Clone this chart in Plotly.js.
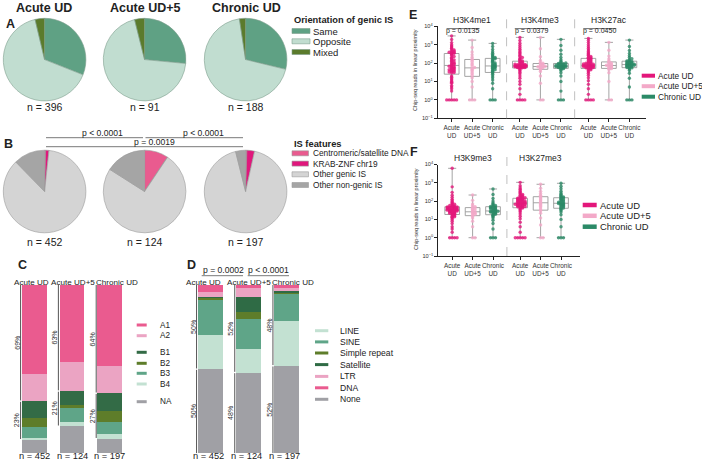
<!DOCTYPE html>
<html>
<head>
<meta charset="utf-8">
<script src="https://cdn.plot.ly/plotly-3.0.1.min.js"></script>
<style>
  html, body { margin: 0; padding: 0; background: #fff; }
  #chart { width: 702px; height: 469px; }
</style>
</head>
<body>
<div id="chart"></div>
<script>
// ---------------- data ----------------
const groups = ['Acute UD', 'Acute UD+5', 'Chronic UD'];

// A: orientation of genic integration sites (% of sites)
const orientLabels = ['Same', 'Opposite', 'Mixed'];
const orientAcute = [31.0, 65.3, 3.7];
const orientAcute5 = [26.5, 69.6, 3.9];
const orientChronic = [28.8, 68.8, 2.4];
const orientN = [396, 91, 188];

// B: integration site features (% of sites)
const featLabels = ['Centromeric/satellite DNA', 'KRAB-ZNF chr19', 'Other genic IS', 'Other non-genic IS'];
const featAcute = [0.4, 1.3, 86.0, 12.3];
const featAcute5 = [9.4, 0.0, 74.6, 16.0];
const featChronic = [0.5, 3.0, 92.6, 3.9];
const featN = [452, 124, 197];
const featPvals = ['p < 0.0001', 'p < 0.0001', 'p = 0.0019'];

// C: chromatin sub-compartments (% per group)
const compLabels = ['A1', 'A2', 'B1', 'B2', 'B3', 'B4', 'NA'];
const compA1 = [53.0, 45.5, 48.1];
const compA2 = [16.0, 17.5, 16.2];
const compB1 = [10.3, 8.3, 10.5];
const compB2 = [5.0, 1.6, 6.7];
const compB3 = [6.5, 8.5, 6.9];
const compB4 = [1.2, 2.6, 3.0];
const compNA = [8.0, 16.0, 8.6];
const compN = [452, 124, 197];

// D: repeat classes at the site (% per group)
const repLabels = ['LINE', 'SINE', 'Simple repeat', 'Satellite', 'LTR', 'DNA', 'None'];
const repDNA = [4.0, 2.0, 1.6];
const repLTR = [3.0, 5.0, 2.0];
const repSatellite = [1.0, 9.3, 1.0];
const repSimple = [1.2, 4.0, 0.6];
const repSINE = [20.4, 18.0, 16.2];
const repLINE = [20.4, 13.7, 26.6];
const repNone = [50.0, 48.0, 52.0];
const repN = [452, 124, 197];
const repPvals = ['p = 0.0002', 'p < 0.0001'];

// E/F: ChIP-seq reads near each site
const marksE = ['H3K4me1', 'H3K4me3', 'H3K27ac'];
const pvalsE = ['p = 0.0135', 'p = 0.0379', 'p = 0.0450'];
const marksF = ['H3K9me3', 'H3K27me3'];

const k4me1Acute = [1,1,1,1,1,3,4,5,6,8,9,10,12,14,17,20,30,31,33,35,37,40,42,44,47,50,53,56,60,63,67,71,78,84,90,97,105,115,125,138,150,165,185,205,230,260,290,320,345,355,370,390,410,440,470,520,580,650,740,850,1000,1300,1900,3000];
const k4me1Acute5 = [1,1,1,5,10,16,22,27,33,40,45,52,58,70,85,100,125,150,165,210,280,400,700,1780];
const k4me1Chronic = [1,1,1,4,8,12,16,20,25,29,33,36,40,44,48,52,56,60,64,68,72,78,85,93,102,112,125,140,155,172,188,200,220,250,290,340,420,550,800,1180];

const k4me3Acute = [1,1,1,1,2,4,7,10,15,20,26,32,38,44,49,53,56,57,58,59,60,61,62,63,64,65,66,66,67,68,69,70,71,72,73,74,75,76,78,80,82,85,88,92,97,103,112,122,132,145,160,180,200,230,270,320,380,460,560,700,900,1200,1700,2500];
const k4me3Acute5 = [1,1,8,20,35,44,48,52,56,59,61,63,67,70,74,79,85,92,98,110,140,220,600,2500];
const k4me3Chronic = [1,1,1,3,10,20,30,40,46,50,53,55,57,59,61,62,63,64,66,67,69,70,72,74,76,79,82,86,90,94,97,102,110,125,150,200,300,500,900,1950];

const k27acAcute = [1,1,1,1,2,4,7,11,16,22,28,34,39,43,47,50,52,54,56,58,60,62,64,65,66,67,68,70,71,72,74,76,78,80,83,86,89,92,96,100,106,112,120,130,140,152,165,176,185,195,210,230,255,285,320,370,430,510,620,780,1000,1300,1700,2200];
const k27acAcute5 = [1,1,10,30,45,50,53,58,62,66,69,72,76,80,86,93,101,112,120,135,170,240,500,1340];
const k27acChronic = [1,1,1,5,15,28,40,48,52,55,58,61,64,67,70,73,75,77,79,81,85,88,91,95,99,104,109,114,119,124,130,140,155,175,200,250,330,480,800,1780];

const k9me3Acute = [1,1,1,1,2,3,4,6,8,10,12,13,14,15,16,18,19,20,21,22,23,24,25,26,27,28,29,30,30,31,32,32,34,35,36,37,38,39,40,41,42,43,44,45,46,47,48,48,50,52,55,58,62,67,73,80,90,105,125,160,210,300,600,6200];
const k9me3Acute5 = [1,1,4,8,12,15,17,19,21,22,24,25,27,30,33,36,39,42,46,50,58,70,110,215];
const k9me3Chronic = [1,1,1,3,6,9,12,14,16,17,19,20,22,23,24,25,26,27,28,28,30,32,34,36,38,40,42,44,46,48,51,54,58,63,70,80,100,140,230,460];

const k27me3Acute = [1,1,1,1,1,2,4,7,11,15,20,25,30,35,39,42,45,47,49,51,53,55,57,59,61,63,65,67,69,71,73,75,78,81,84,87,90,94,98,102,106,110,115,120,125,130,135,140,145,152,160,170,182,195,210,230,255,285,320,370,440,540,700,1060];
const k27me3Acute5 = [1,1,5,12,22,30,34,42,50,58,66,75,87,100,115,132,150,168,180,210,260,340,500,830];
const k27me3Chronic = [1,1,1,4,10,18,25,31,36,39,42,46,50,54,58,62,65,68,71,74,78,83,88,94,100,108,117,127,137,148,158,170,185,205,235,280,350,470,650,940];

// ---------------- styling ----------------
const W = 702, H = 469;
const FONT = '"Liberation Sans", Arial, sans-serif';
const TXT = '#222';
const fx = x => x / W;           // page pixel -> paper x
const fy = y => 1 - y / H;       // page pixel -> paper y

const orientColors = ['#5fa184', '#c1ddd0', '#5b7b2c'];
const featColors = ['#e95b8f', '#e0177c', '#d4d4d4', '#a5a5a5'];
const compColors = {A1: '#ea5b8f', A2: '#eba4c3', B1: '#336b46', B2: '#5e7d2a', B3: '#5fa588', B4: '#c3e1d2', NA: '#a0a0a5'};
const repColors = {LINE: '#c3e1d2', SINE: '#5fa588', 'Simple repeat': '#5e7d2a', Satellite: '#2f6b45', LTR: '#eba4c3', DNA: '#ea5b8f', None: '#a0a0a5'};
const groupColors = ['#e3177a', '#f3a9c8', '#2b8a67'];

const traces = [];
const shapes = [];
const annotations = [];

function txt(text, x, y, size, opts) {
  return Object.assign({
    text: text, x: fx(x), y: fy(y), xref: 'paper', yref: 'paper',
    showarrow: false, xanchor: 'center', yanchor: 'middle',
    font: {family: FONT, size: size, color: TXT}
  }, opts || {});
}
function hline(x0, x1, y, color, width) {
  shapes.push({type: 'line', xref: 'paper', yref: 'paper', x0: fx(x0), x1: fx(x1), y0: fy(y), y1: fy(y),
    line: {color: color || '#555', width: width || 0.8}});
}
function swatch(x0, x1, yc, h, color, border) {
  shapes.push({type: 'rect', xref: 'paper', yref: 'paper', x0: fx(x0), x1: fx(x1), y0: fy(yc + h / 2), y1: fy(yc - h / 2),
    fillcolor: color, line: {color: border || color, width: border ? 0.6 : 0}});
}

// ---------------- pies (A, B) ----------------
function pie(values, labels, colors, cx, cy, r, lineColor) {
  traces.push({
    type: 'pie', values: values, labels: labels, sort: false, direction: 'clockwise', rotation: 0,
    textinfo: 'none', hoverinfo: 'none', showlegend: false,
    marker: {colors: colors, line: {color: lineColor, width: 0.6}},
    domain: {x: [fx(cx - r), fx(cx + r)], y: [fy(cy + r), fy(cy - r)]}
  });
}
const pieX = [44.6, 144.6, 245.6];
const orientSets = [orientAcute, orientAcute5, orientChronic];
const featSets = [featAcute, featAcute5, featChronic];
orientSets.forEach((v, i) => pie(v, orientLabels, orientColors, pieX[i], 59.6, 41.3, '#7e9d8d'));
featSets.forEach((v, i) => pie(v, featLabels, featColors, pieX[i], 191.5, 41.3, '#9a9a9a'));

const pieTitleX = [44, 145, 246.5];
groups.forEach((g, i) => {
  annotations.push(txt('<b>' + g + '</b>', pieTitleX[i], 8.5, 12.5));
  annotations.push(txt('n = ' + orientN[i], pieX[i], 107.5, 10.5));
  annotations.push(txt('n = ' + featN[i], pieX[i], 241.5, 10.5));
});
annotations.push(txt('<b>A</b>', 10, 24, 12.5));
annotations.push(txt('<b>B</b>', 8.5, 144, 12.5));

// legend A
annotations.push(txt('<b>Orientation of genic IS</b>', 291.5, 20, 9.3, {xanchor: 'left'}));
orientLabels.forEach((l, i) => {
  const y = [31, 41.3, 52][i];
  swatch(292, 310, y, 5, orientColors[i], '#7e9d8d');
  annotations.push(txt(l, 311, y, 9.5, {xanchor: 'left'}));
});
// legend B
annotations.push(txt('<b>IS features</b>', 291.5, 144, 9.3, {xanchor: 'left'}));
featLabels.forEach((l, i) => {
  const y = [153.3, 163.6, 174.3, 185][i];
  swatch(292, 308.5, y, 5, featColors[i], '#9a9a9a');
  annotations.push(txt(l, 310.5, y, 8.3, {xanchor: 'left'}));
});
// significance lines for B
hline(46, 143, 137.7); hline(145.5, 243, 137.7); hline(46, 243, 146.7);
annotations.push(txt(featPvals[0], 103, 133.2, 8.6));
annotations.push(txt(featPvals[1], 203, 133.2, 8.6));
annotations.push(txt(featPvals[2], 154, 142.3, 8.6));

// ---------------- stacked bars (C, D) ----------------
const BAR_W = 0.66;
function stackTrace(name, vals, color, xa, ya) {
  traces.push({type: 'bar', name: name, x: groups, y: vals, xaxis: xa, yaxis: ya, width: BAR_W,
    marker: {color: color, line: {width: 0}}, hoverinfo: 'none', showlegend: false});
}
// bottom to top
[['NA', compNA], ['B4', compB4], ['B3', compB3], ['B2', compB2], ['B1', compB1], ['A2', compA2], ['A1', compA1]]
  .forEach(([n, v]) => stackTrace(n, v, compColors[n], 'x3', 'y3'));
[['None', repNone], ['LINE', repLINE], ['SINE', repSINE], ['Simple repeat', repSimple], ['Satellite', repSatellite], ['LTR', repLTR], ['DNA', repDNA]]
  .forEach(([n, v]) => stackTrace(n, v, repColors[n], 'x4', 'y4'));

function bracket(xa, ya, i, y0, y1) {
  shapes.push({type: 'line', xref: xa, yref: ya, x0: i - 0.36, x1: i - 0.36, y0: y0, y1: y1,
    line: {color: '#555', width: 1}});
}
function pctLabel(xa, ya, i, y, text) {
  annotations.push({text: text, x: i, y: y, xref: xa, yref: ya, xshift: -17.5, showarrow: false,
    textangle: -90, font: {family: FONT, size: 7, color: '#333'}});
}
groups.forEach((g, i) => {
  const aPct = compA1[i] + compA2[i];
  const bPct = compB1[i] + compB2[i] + compB3[i] + compB4[i];
  bracket('x3', 'y3', i, 100, 100 - aPct + 0.4);
  bracket('x3', 'y3', i, 100 - aPct - 0.4, compNA[i] + 0.5);
  pctLabel('x3', 'y3', i, 100 - aPct / 2, Math.round(aPct) + '%');
  pctLabel('x3', 'y3', i, compNA[i] + bPct / 2, Math.round(bPct) + '%');
  annotations.push({text: 'n = ' + compN[i], x: i, y: fy(462.5), xref: 'x3', yref: 'paper', showarrow: false,
    font: {family: FONT, size: 9.3, color: TXT}});

  const repPct = 100 - repNone[i];
  bracket('x4', 'y4', i, 100, repNone[i] + 0.4);
  bracket('x4', 'y4', i, repNone[i] - 0.4, 0);
  pctLabel('x4', 'y4', i, repNone[i] + repPct / 2, Math.round(repPct) + '%');
  pctLabel('x4', 'y4', i, repNone[i] / 2, Math.round(repNone[i]) + '%');
  annotations.push({text: 'n = ' + repN[i], x: i, y: fy(462.5), xref: 'x4', yref: 'paper', xshift: -2, showarrow: false,
    font: {family: FONT, size: 9.3, color: TXT}});
});
// group headers above the bars
[[31, 73, 117], [203, 249, 292.5]].forEach(xs => groups.forEach((g, i) =>
  annotations.push(txt(g, xs[i], 282, 8.1))));
annotations.push(txt('<b>C</b>', 22.5, 265, 12.5));
annotations.push(txt('<b>D</b>', 191.5, 265, 12.5));
// significance for D
hline(201.7, 243, 275.7); hline(247.7, 289, 275.7);
annotations.push(txt(repPvals[0], 223, 270, 8.6));
annotations.push(txt(repPvals[1], 268, 270, 8.6));

// legend C
const compLegY = [325, 335.7, 352.3, 363.3, 373.3, 384, 401.7];
compLabels.forEach((l, i) => {
  swatch(136.7, 146.7, compLegY[i], 3, compColors[l]);
  annotations.push(txt(l, 158, compLegY[i], 8.2, {xanchor: 'left'}));
});
// legend D
const repLegY = [330.7, 341.9, 353, 364.6, 376.4, 387.8, 399.3];
repLabels.forEach((l, i) => {
  swatch(315, 328.3, repLegY[i], 3, repColors[l]);
  annotations.push(txt(l, 338, repLegY[i], 8.6, {xanchor: 'left'}));
});

// ---------------- box + swarm (E, F) ----------------
const boxPos = [0, 1, 2, 3.33, 4.33, 5.33, 6.67, 7.67, 8.67];
const tickText = ['Acute<br>UD', 'Acute<br>UD+5', 'Chronic<br>UD'];

// deterministic beeswarm offsets: points sharing a log-bin are laid out side by side
function swarm(vals, half) {
  const step = 0.12;
  const slots = Math.floor(half / step);
  const cols = 2 * slots + 1;
  const count = {};
  return vals.map(v => {
    const bin = Math.round(Math.log10(v) / 0.06);
    const k = count[bin] = (count[bin] || 0);
    count[bin] = k + 1;
    const c = k % cols;
    const side = c === 0 ? 0 : (c % 2 ? 1 : -1) * Math.ceil(c / 2);
    const row = Math.floor(k / cols);
    let off = side * step + (row % 2 ? step / 2 : 0);
    if (off > half) off -= step;
    return off;
  });
}
function addMarks(sets, xa, ya) {
  sets.forEach((vals, i) => {
    const pos = boxPos[i];
    const offs = swarm(vals, 0.34);
    traces.push({type: 'scatter', mode: 'markers', x: vals.map((v, j) => pos + offs[j]), y: vals,
      xaxis: xa, yaxis: ya, hoverinfo: 'skip', showlegend: false,
      marker: {size: 3.4, color: groupColors[i % 3], opacity: 0.8, line: {width: 0}}});
    traces.push({type: 'box', x0: pos, y: vals, xaxis: xa, yaxis: ya, boxpoints: false, width: 0.72,
      whiskerwidth: 0.55, line: {color: '#9a9a9a', width: 0.9}, fillcolor: 'rgba(0,0,0,0)',
      hoverinfo: 'skip', showlegend: false});
  });
}
addMarks([k4me1Acute, k4me1Acute5, k4me1Chronic, k4me3Acute, k4me3Acute5, k4me3Chronic,
          k27acAcute, k27acAcute5, k27acChronic], 'x', 'y');
addMarks([k9me3Acute, k9me3Acute5, k9me3Chronic, k27me3Acute, k27me3Acute5, k27me3Chronic], 'x2', 'y2');

const logTicks = [0.1, 1, 10, 100, 1000, 10000];
const logText = ['10<sup>\u22121</sup>', '10<sup>0</sup>', '10<sup>1</sup>', '10<sup>2</sup>', '10<sup>3</sup>', '10<sup>4</sup>'];
function xAxis(dom, rng, n) {
  return {domain: dom, range: rng, showline: true, linecolor: '#222', linewidth: 1, zeroline: false, showgrid: false,
    tickvals: boxPos.slice(0, n), ticktext: boxPos.slice(0, n).map((p, i) => tickText[i % 3]), tickangle: 0,
    ticks: 'outside', ticklen: 3, tickcolor: '#222', tickfont: {family: FONT, size: 6.4, color: '#333'}};
}
function yAxis(dom) {
  return {type: 'log', domain: dom, range: [-1, 4], showline: true, linecolor: '#222', linewidth: 1, zeroline: false,
    showgrid: false, tickvals: logTicks, ticktext: logText, ticks: 'outside', ticklen: 3, tickcolor: '#222',
    tickfont: {family: FONT, size: 5.6, color: '#333'}};
}

// separators between marks
[[2.68, 'x', 18, 118.3], [6.0, 'x', 18, 118.3], [2.68, 'x2', 155, 256]].forEach(([x, xa, t, b]) =>
  shapes.push({type: 'line', xref: xa, yref: 'paper', x0: x, x1: x, y0: fy(b), y1: fy(t),
    line: {color: '#b0b0b0', width: 0.8, dash: 'dash'}}));

marksE.forEach((m, k) => {
  const p0 = boxPos[3 * k];
  annotations.push({text: m, x: p0 + 1, y: fy(12.7), xref: 'x', yref: 'paper', showarrow: false,
    font: {family: FONT, size: 8.5, color: TXT}});
  annotations.push({text: pvalsE[k], x: p0 + 0.55, y: fy(24.8), xref: 'x', yref: 'paper', showarrow: false,
    font: {family: FONT, size: 7, color: TXT}});
  shapes.push({type: 'line', xref: 'x', yref: 'paper', x0: p0 - 0.25, x1: p0 + 1.36, y0: fy(28.6), y1: fy(28.6),
    line: {color: '#333', width: 0.7}});
});
marksF.forEach((m, k) => {
  annotations.push({text: m, x: boxPos[3 * k] + 1, y: fy(158), xref: 'x2', yref: 'paper', showarrow: false,
    font: {family: FONT, size: 8.5, color: TXT}});
});
annotations.push(txt('Chip-seq reads in linear proximity', 415, 70, 5.5, {textangle: -90, font: {family: FONT, size: 5.5, color: '#333'}}));
annotations.push(txt('Chip-seq reads in linear proximity', 416, 209, 5.5, {textangle: -90, font: {family: FONT, size: 5.5, color: '#333'}}));
annotations.push(txt('<b>E</b>', 413, 15, 12.5));
annotations.push(txt('<b>F</b>', 414, 152, 12.5));

// legends E, F
groups.forEach((g, i) => {
  const yE = [75.7, 86.2, 96.7][i];
  swatch(641.7, 655, yE, 4, groupColors[i]);
  annotations.push(txt(g, 656, yE, 8.3, {xanchor: 'left'}));
  const yF = [205, 215.8, 226.7][i];
  swatch(582.7, 596.7, yF, 4.5, groupColors[i]);
  annotations.push(txt(g, 597.5, yF, 9.4, {xanchor: 'left'}));
});

const layout = {
  width: W, height: H, margin: {l: 0, r: 0, t: 0, b: 0, pad: 0},
  paper_bgcolor: '#fff', plot_bgcolor: 'rgba(0,0,0,0)',
  font: {family: FONT, color: TXT},
  showlegend: false, barmode: 'stack', boxmode: 'overlay',
  xaxis: Object.assign(xAxis([fx(437.7), fx(646)], [-0.68, 9.48], 9), {anchor: 'y'}),
  yaxis: Object.assign(yAxis([fy(118.3), fy(26.3)]), {anchor: 'x'}),
  xaxis2: Object.assign(xAxis([fx(438.3), fx(580)], [-0.68, 6.26], 6), {anchor: 'y2'}),
  yaxis2: Object.assign(yAxis([fy(256), fy(164.5)]), {anchor: 'x2'}),
  xaxis3: {domain: [fx(15.3), fx(128.7)], range: [-0.5, 2.5], type: 'category', visible: false, anchor: 'y3'},
  yaxis3: {domain: [fy(453.3), fy(285)], range: [0, 100], visible: false, anchor: 'x3'},
  xaxis4: {domain: [fx(191.2), fx(305.8)], range: [-0.5, 2.5], type: 'category', visible: false, anchor: 'y4'},
  yaxis4: {domain: [fy(453.3), fy(285)], range: [0, 100], visible: false, anchor: 'x4'},
  shapes: shapes, annotations: annotations
};

Plotly.newPlot('chart', traces, layout, {staticPlot: true, displayModeBar: false});
</script>
</body>
</html>
